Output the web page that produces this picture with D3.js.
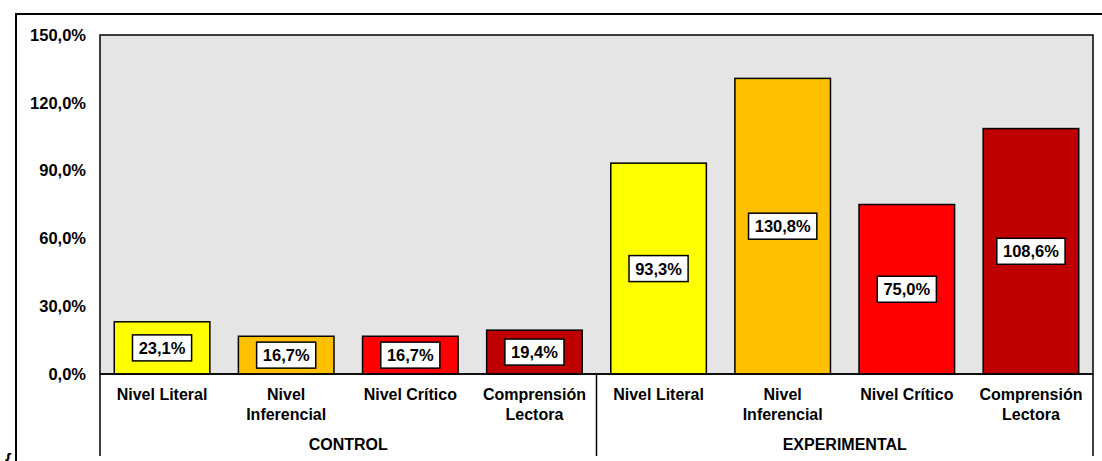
<!DOCTYPE html>
<html lang="es">
<head>
<meta charset="UTF-8">
<title>Comprensión lectora</title>
<style>
  body { margin: 0; background: #fff; }
  text { font-family: Arial, "Liberation Sans", sans-serif; font-weight: bold; fill: #000; }
</style>
</head>
<body>
<div id="chart"></div>
<script src="https://d3js.org/d3.v7.min.js"></script>
<script>
// data
var groups = ["CONTROL", "EXPERIMENTAL"];
var categories = ["Nivel Literal", "Nivel Inferencial", "Nivel Crítico", "Comprensión Lectora"];
var controlValues = [23.1, 16.7, 16.7, 19.4];
var experimentalValues = [93.3, 130.8, 75.0, 108.6];
var yTicks = [0, 30, 60, 90, 120, 150];
var barColors = ["#ffff00", "#ffc000", "#ff0000", "#c00000"];

var width = 1102, height = 461;
var plot = { left: 100, right: 1093, top: 35, bottom: 374 };

// build rows for the bars
var rows = [];
[controlValues, experimentalValues].forEach(function (vals, g) {
  vals.forEach(function (v, i) {
    rows.push({ key: groups[g] + "|" + categories[i], group: groups[g], cat: categories[i], i: i, value: v });
  });
});

var locale = d3.formatLocale({ decimal: ",", thousands: ".", grouping: [3], currency: ["", "€"] });
var fmt = locale.format(".1f");

var svg = d3.select("#chart").append("svg")
  .attr("width", width)
  .attr("height", height);

// outer chart border (runs off the right/bottom edge)
svg.append("rect")
  .attr("x", 16).attr("y", 14)
  .attr("width", 1100).attr("height", 460)
  .attr("fill", "#fff")
  .attr("stroke", "#000")
  .attr("stroke-width", 2);

var x = d3.scaleBand()
  .domain(rows.map(function (d) { return d.key; }))
  .range([plot.left, plot.right])
  .paddingInner(0.23)
  .paddingOuter(0.115);

var y = d3.scaleLinear()
  .domain([0, 150])
  .range([plot.bottom, plot.top]);

// plot area
svg.append("rect")
  .attr("x", plot.left).attr("y", plot.top)
  .attr("width", plot.right - plot.left)
  .attr("height", plot.bottom - plot.top)
  .attr("fill", "#e5e5e5")
  .attr("stroke", "#000")
  .attr("stroke-width", 1.5);

// y axis labels
var yAxis = d3.axisLeft(y)
  .tickValues(yTicks)
  .tickSize(0)
  .tickPadding(14)
  .tickFormat(function (d) { return fmt(d) + "%"; });

svg.append("g")
  .attr("transform", "translate(" + plot.left + ",0)")
  .call(yAxis)
  .call(function (g) {
    g.select(".domain").remove();
    g.selectAll("text").style("font-size", "16.5px").style("font-weight", "bold");
  });

// bars
svg.append("g").selectAll("rect")
  .data(rows)
  .join("rect")
  .attr("x", function (d) { return x(d.key); })
  .attr("y", function (d) { return y(d.value); })
  .attr("width", x.bandwidth())
  .attr("height", function (d) { return y(0) - y(d.value); })
  .attr("fill", function (d) { return barColors[d.i]; })
  .attr("stroke", "#000")
  .attr("stroke-width", 1.5);

// value labels in white boxes
var lab = svg.append("g").selectAll("g")
  .data(rows)
  .join("g")
  .attr("transform", function (d) {
    return "translate(" + (x(d.key) + x.bandwidth() / 2) + "," + y(d.value / 2) + ")";
  });

lab.append("rect").attr("fill", "#fff").attr("stroke", "#000").attr("stroke-width", 1.5);
lab.append("text")
  .attr("text-anchor", "middle")
  .attr("dy", "0.36em")
  .style("font-size", "16.5px")
  .text(function (d) { return fmt(d.value) + "%"; });

lab.each(function () {
  var g = d3.select(this);
  var bb = g.select("text").node().getBBox();
  g.select("rect")
    .attr("x", -bb.width / 2 - 6)
    .attr("y", -13)
    .attr("width", bb.width + 12)
    .attr("height", 26);
});

// category axis: baseline and group separators
var axisG = svg.append("g");
axisG.append("line")
  .attr("x1", plot.left).attr("x2", plot.right)
  .attr("y1", y(0)).attr("y2", y(0))
  .attr("stroke", "#000").attr("stroke-width", 1.5);

var groupEdges = [plot.left];
groups.forEach(function (g) {
  var keys = rows.filter(function (d) { return d.group === g; });
  var last = keys[keys.length - 1];
  groupEdges.push(x(last.key) + x.bandwidth() + x.step() * 0.115);
});
groupEdges[groupEdges.length - 1] = plot.right;

axisG.selectAll("line.sep")
  .data(groupEdges)
  .join("line")
  .attr("class", "sep")
  .attr("x1", function (d) { return d; }).attr("x2", function (d) { return d; })
  .attr("y1", y(0)).attr("y2", 456)
  .attr("stroke", "#000").attr("stroke-width", 1.5);

// category labels with word wrap
var catText = axisG.selectAll("text.cat")
  .data(rows)
  .join("text")
  .attr("class", "cat")
  .attr("text-anchor", "middle")
  .attr("x", function (d) { return x(d.key) + x.bandwidth() / 2; })
  .attr("y", 400)
  .style("font-size", "16px");

catText.each(function (d) {
  var t = d3.select(this);
  var words = d.cat.split(" ");
  t.text(d.cat);
  if (this.getComputedTextLength() > 112) {
    t.text(null);
    words.forEach(function (w, k) {
      t.append("tspan")
        .attr("x", x(d.key) + x.bandwidth() / 2)
        .attr("dy", k === 0 ? 0 : 20)
        .text(w);
    });
  }
});

// group labels
axisG.selectAll("text.grp")
  .data(groups)
  .join("text")
  .attr("class", "grp")
  .attr("text-anchor", "middle")
  .attr("x", function (d, i) { return (groupEdges[i] + groupEdges[i + 1]) / 2; })
  .attr("y", 450)
  .style("font-size", "16px")
  .text(function (d) { return d; });

// stray brace at bottom-left
svg.append("text")
  .attr("x", 5).attr("y", 465)
  .style("font-size", "17px")
  .text("{");
</script>
</body>
</html>
